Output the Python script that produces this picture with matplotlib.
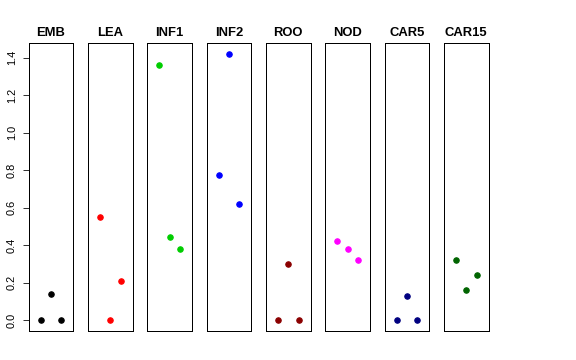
import matplotlib
matplotlib.use("Agg")
import matplotlib.pyplot as plt

plt.rcParams['font.family'] = ['Liberation Sans', 'DejaVu Sans']

# panel names, colours and values (3 points per panel, at x = 1, 2, 3)
tissues = ["EMB", "LEA", "INF1", "INF2", "ROO", "NOD", "CAR5", "CAR15"]
colors = ["#000000", "#FF0000", "#00CD00", "#0000FF",
          "#8B0000", "#FF00FF", "#000080", "#006400"]
values = [
    [0.0, 0.14, 0.0],
    [0.55, 0.0, 0.21],
    [1.36, 0.445, 0.38],
    [0.775, 1.42, 0.62],
    [0.0, 0.30, 0.0],
    [0.425, 0.38, 0.32],
    [0.0, 0.13, 0.0],
    [0.32, 0.16, 0.24],
]
xpos = [1, 2, 3]
yticks = [0.0, 0.2, 0.4, 0.6, 0.8, 1.0, 1.2, 1.4]

fig = plt.figure(figsize=(8, 5), dpi=72)

left = 0.0498
width = 0.0774
step = 0.103
bottom = 0.0806
height = 0.8797 - bottom

for i, (name, col, vals) in enumerate(zip(tissues, colors, values)):
    ax = fig.add_axes([left + i * step, bottom, width, height])
    ax.plot(xpos, vals, 'o', color=col, markersize=5.5, linestyle='none')
    ax.set_xlim(-0.16, 4.16)
    ax.set_ylim(-0.057, 1.477)
    ax.set_xticks([])
    for sp in ax.spines.values():
        sp.set_linewidth(1.0)
        sp.set_color('black')
    ax.set_title(name, fontsize=13, fontweight='bold', pad=7)
    if i == 0:
        ax.set_yticks(yticks)
        ax.set_yticklabels([f"{t:.1f}" for t in yticks], rotation=90,
                           va='center', fontsize=11)
        ax.tick_params(axis='y', length=6, pad=6)
    else:
        ax.set_yticks([])

fig.savefig("out.png", dpi=72)
